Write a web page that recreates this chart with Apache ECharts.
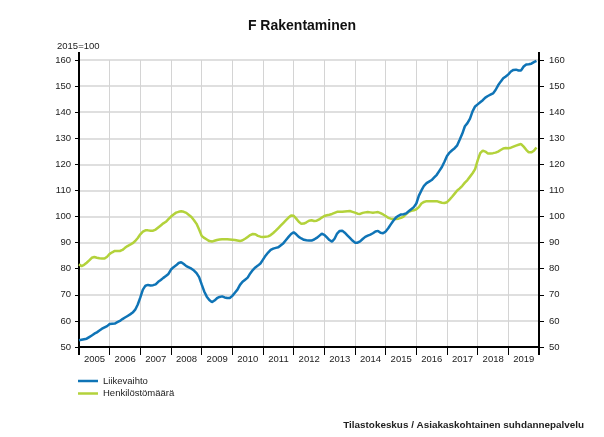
<!DOCTYPE html>
<html>
<head>
<meta charset="utf-8">
<script src="https://cdn.jsdelivr.net/npm/echarts@6/dist/echarts.min.js"></script>
<style>
html,body{margin:0;padding:0;background:#fff;}
#chart{width:604px;height:437px;}
</style>
</head>
<body>
<div id="chart"></div>
<script>
// Monthly data, Jan 2005 .. Dec 2019 (2015=100)
const startYear = 2005;
const endYear = 2020;
const yearLabels = [2005,2006,2007,2008,2009,2010,2011,2012,2013,2014,2015,2016,2017,2018,2019];
const seriesNames = ['Liikevaihto', 'Henkilöstömäärä'];

const liikevaihto = [
  52.6, 52.8, 53.0, 53.2, 53.8, 54.4, 55.1, 55.6, 56.3, 57.0, 57.5, 58.0,
  58.8, 58.9, 59.0, 59.5, 60.0, 60.7, 61.3, 61.9, 62.5, 63.2, 64.3, 66.3,
  69.0, 72.0, 73.5, 73.8, 73.6, 73.7, 74.0, 75.0, 75.7, 76.5, 77.2, 78.0,
  79.7, 80.6, 81.3, 82.2, 82.5, 81.8, 81.0, 80.5, 80.0, 79.3, 78.3, 76.8,
  74.0, 71.3, 69.3, 68.0, 67.2, 67.8, 68.7, 69.2, 69.4, 69.0, 68.8, 68.8,
  69.6, 70.8, 72.0, 73.8, 75.0, 75.8, 76.6, 78.2, 79.5, 80.5, 81.2, 82.0,
  83.5, 85.0, 86.2, 87.2, 87.7, 88.0, 88.2, 89.0, 89.8, 91.0, 92.2, 93.3,
  94.0, 93.2, 92.2, 91.6, 91.1, 90.9, 90.8, 90.8, 91.2, 91.8, 92.6, 93.4,
  93.0, 92.0, 91.0, 90.4, 91.5, 93.5, 94.5, 94.6, 93.8, 92.8, 91.8, 90.8,
  90.0, 90.0, 90.5, 91.4, 92.2, 92.7, 93.1, 93.6, 94.3, 94.5, 93.8, 93.6,
  94.3, 95.5, 97.0, 98.4, 99.6, 100.3, 100.8, 100.9, 101.2, 102.0, 102.8, 103.6,
  105.0, 108.0, 110.0, 111.8, 112.8, 113.4, 114.0, 115.0, 116.0, 117.5, 119.0, 121.0,
  123.2, 124.5, 125.4, 126.2, 127.3, 129.5, 131.8, 134.6, 135.8, 137.5, 140.3, 142.2,
  143.0, 143.8, 144.6, 145.6, 146.2, 146.7, 147.2, 148.5, 150.3, 151.7, 153.0, 153.7,
  154.5, 155.6, 156.2, 156.3, 156.0, 156.0, 157.5, 158.3, 158.4, 158.6, 159.2, 159.7
];

const henkilostomaara = [
  81.7, 81.0, 81.5, 82.3, 83.2, 84.2, 84.5, 84.2, 84.0, 83.9, 83.9, 84.6,
  85.7, 86.3, 86.8, 86.8, 86.8, 87.2, 88.0, 88.7, 89.2, 89.8, 90.6, 91.8,
  93.2, 94.2, 94.7, 94.7, 94.6, 94.6, 95.0, 95.8, 96.6, 97.4, 98.0, 99.0,
  100.0, 100.8, 101.5, 101.8, 102.0, 101.8, 101.4, 100.6, 99.8, 98.6, 97.2, 95.0,
  92.6, 91.8, 91.2, 90.6, 90.4, 90.7, 91.0, 91.2, 91.3, 91.3, 91.3, 91.2,
  91.1, 91.0, 90.8, 90.6, 90.9, 91.5, 92.2, 92.9, 93.3, 93.2, 92.6, 92.3,
  92.2, 92.3, 92.4, 92.9, 93.7, 94.6, 95.6, 96.6, 97.6, 98.6, 99.6, 100.4,
  100.3, 99.2, 98.0, 97.2, 97.3, 97.8, 98.4, 98.6, 98.3, 98.4, 98.9, 99.6,
  100.2, 100.5, 100.7, 101.0, 101.4, 101.8, 101.8, 101.8, 101.9, 102.0, 102.1, 101.8,
  101.5, 101.1, 101.0, 101.4, 101.6, 101.7, 101.6, 101.5, 101.6, 101.7, 101.3, 100.8,
  100.2, 99.5, 99.2, 99.1, 99.1, 99.2, 99.5, 100.0, 100.9, 101.8, 102.2, 102.4,
  102.8, 103.6, 105.0, 105.6, 105.9, 105.9, 105.9, 105.9, 105.9, 105.6, 105.3, 105.2,
  105.5, 106.5, 107.6, 108.8, 110.0, 110.8, 111.8, 113.0, 114.0, 115.3, 116.6, 118.2,
  121.5, 124.3, 125.3, 124.9, 124.2, 124.2, 124.3, 124.5, 124.9, 125.5, 126.1, 126.3,
  126.2, 126.4, 126.8, 127.2, 127.5, 127.8, 126.8, 125.6, 124.6, 124.6, 125.2, 126.5
];

const yMin = 50, yMax = 160, yStep = 10;

function toPairs(arr) {
  return arr.map((v, i) => [startYear + i / 12, v]);
}

const FONT = 'Liberation Sans, Arial, sans-serif';
const chart = echarts.init(document.getElementById('chart'), null, {renderer: 'canvas'});

const axisLabelY = {color: '#222', fontSize: 9.5, fontFamily: FONT};

chart.setOption({
  animation: false,
  backgroundColor: '#fff',
  title: [
    {text: 'F Rakentaminen', left: 'center', top: 19, padding: 0,
     textStyle: {fontSize: 14, fontWeight: 'bold', color: '#111', fontFamily: FONT}},
    {text: '2015=100', left: 57, top: 41, padding: 0,
     textStyle: {fontSize: 9.5, fontWeight: 'normal', color: '#222', fontFamily: FONT}},
    {text: 'Tilastokeskus / Asiakaskohtainen suhdannepalvelu', right: 20, top: 420, padding: 0,
     textStyle: {fontSize: 9.9, fontWeight: 'bold', color: '#222', fontFamily: FONT}}
  ],
  legend: {
    orient: 'vertical', left: 78, top: 376, padding: 0,
    itemWidth: 20, itemHeight: 2.5, itemGap: 2.5,
    icon: 'rect',
    textStyle: {fontSize: 9.5, color: '#222', fontFamily: FONT},
    data: seriesNames
  },
  grid: {left: 79, right: 65, top: 60, bottom: 90, containLabel: false},
  xAxis: {
    type: 'value', min: startYear, max: endYear, interval: 1,
    axisLine: {show: true, lineStyle: {color: '#000', width: 2}},
    axisTick: {show: true, length: 8, lineStyle: {color: '#000', width: 1}},
    splitLine: {show: true, lineStyle: {color: '#d4d4d4', width: 1}},
    axisLabel: {
      show: true, showMinLabel: true, showMaxLabel: true,
      color: '#222', fontSize: 9.5, fontFamily: FONT, margin: 7,
      padding: [0, 0, 0, 31],
      formatter: v => (yearLabels.indexOf(Math.round(v)) >= 0 ? String(Math.round(v)) : '')
    }
  },
  yAxis: [
    {type: 'value', position: 'left', min: yMin, max: yMax, interval: yStep,
     axisLine: {show: true, lineStyle: {color: '#000', width: 2}},
     axisTick: {show: true, length: 4, lineStyle: {color: '#000'}},
     splitLine: {show: true, lineStyle: {color: '#d4d4d4', width: 1.5}},
     axisLabel: Object.assign({margin: 8}, axisLabelY)},
    {type: 'value', position: 'right', min: yMin, max: yMax, interval: yStep,
     axisLine: {show: true, lineStyle: {color: '#000', width: 2}},
     axisTick: {show: true, length: 5, lineStyle: {color: '#000'}},
     splitLine: {show: false},
     axisLabel: Object.assign({margin: 10}, axisLabelY)}
  ],
  series: [
    {name: seriesNames[0], type: 'line', data: toPairs(liikevaihto), showSymbol: false,
     symbol: 'none', color: '#0f74b6', lineStyle: {width: 2.5, color: '#0f74b6'}, z: 3},
    {name: seriesNames[1], type: 'line', data: toPairs(henkilostomaara), showSymbol: false,
     symbol: 'none', color: '#b3d23b', lineStyle: {width: 2.5, color: '#b3d23b'}, z: 2}
  ]
});

// small extensions of the vertical axis lines beyond the plot area (as in the original)
const xL = chart.convertToPixel({xAxisIndex: 0}, startYear);
const xR = chart.convertToPixel({xAxisIndex: 0}, endYear);
const yT = chart.convertToPixel({yAxisIndex: 0}, yMax);
const yB = chart.convertToPixel({yAxisIndex: 0}, yMin);
const ext = 8;
const seg = (x, y1, y2) => ({type: 'line', shape: {x1: x, y1: y1, x2: x, y2: y2},
  style: {stroke: '#000', lineWidth: 2}, z: 10});
chart.setOption({graphic: [
  seg(xL, yT - ext, yT), seg(xL, yB, yB + ext),
  seg(xR, yT - ext, yT), seg(xR, yB, yB + ext)
]});
</script>
</body>
</html>
